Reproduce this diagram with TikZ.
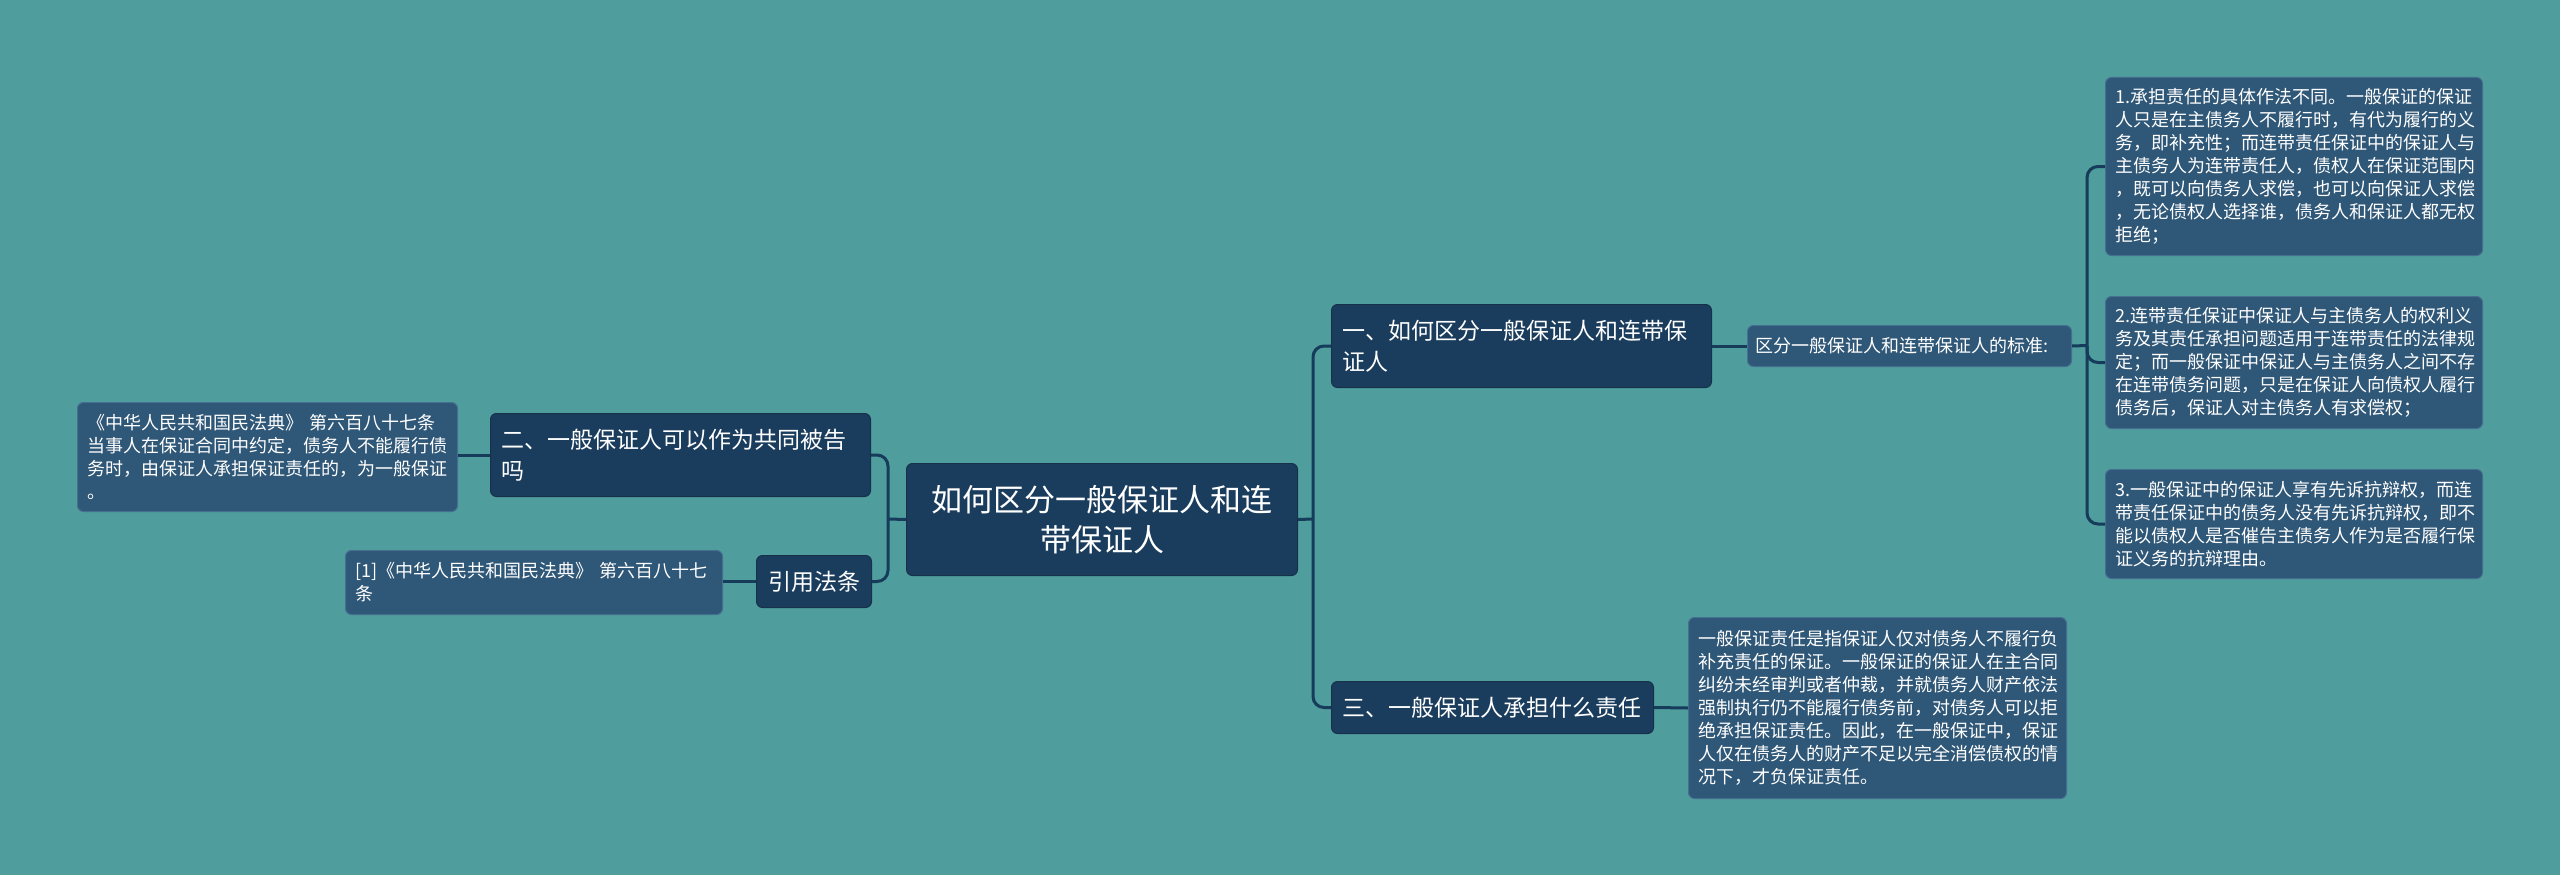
\documentclass[tikz,border=0pt]{standalone}
\usepackage{fontspec}
\setmainfont{Noto Sans CJK SC}
\definecolor{bgc}{HTML}{4F9D9D}
\definecolor{darkc}{HTML}{1B3D5D}
\definecolor{leafc}{HTML}{2F5777}
\definecolor{leafedge}{HTML}{456F90}
\definecolor{linec}{HTML}{163B5B}
\tikzset{
  mmbase/.style={anchor=north west, rounded corners=6pt, text=white, inner ysep=0pt},
  mmroot/.style={mmbase, fill=darkc, draw=darkc!80!black, line width=1pt, align=center, inner xsep=10pt, font=\fontsize{31}{40}\selectfont},
  mmmain/.style={mmbase, fill=darkc, draw=darkc!80!black, line width=1pt, align=left, inner xsep=11pt, font=\fontsize{23}{31}\selectfont},
  mmleaf/.style={mmbase, fill=leafc, draw=leafedge, line width=1pt, align=left, inner xsep=10pt, font=\fontsize{18}{23}\selectfont},
  conn/.style={draw=linec, line width=3pt},
  connr/.style={conn, rounded corners=11pt},
}
\begin{document}
\begin{tikzpicture}[x=1pt,y=-1pt]
\fill[bgc] (0,0) rectangle (2560,875);
\useasboundingbox (0,0) rectangle (2560,875);

% root
\node[mmroot, text width=371pt, minimum height=112pt] (root) at (906,463) {如何区分一般保证人和连\\带保证人};

% right side
\node[mmmain, text width=358pt, minimum height=83pt] (n1) at (1331,304) {一、如何区分一般保证人和连带保\\证人};
\node[mmleaf, text width=308pt, minimum height=41pt, inner xsep=8pt] (std) at (1747,325) {区分一般保证人和连带保证人的标准:};
\node[mmleaf, text width=357pt, minimum height=178pt] (l1) at (2105,77) {1.承担责任的具体作法不同。一般保证的保证\\人只是在主债务人不履行时，有代为履行的义\\务，即补充性；而连带责任保证中的保证人与\\主债务人为连带责任人，债权人在保证范围内\\，既可以向债务人求偿，也可以向保证人求偿\\，无论债权人选择谁，债务人和保证人都无权\\拒绝；};
\node[mmleaf, text width=357pt, minimum height=132pt] (l2) at (2105,296) {2.连带责任保证中保证人与主债务人的权利义\\务及其责任承担问题适用于连带责任的法律规\\定；而一般保证中保证人与主债务人之间不存\\在连带债务问题，只是在保证人向债权人履行\\债务后，保证人对主债务人有求偿权；};
\node[mmleaf, text width=357pt, minimum height=109pt] (l3) at (2105,469) {3.一般保证中的保证人享有先诉抗辩权，而连\\带责任保证中的债务人没有先诉抗辩权，即不\\能以债权人是否催告主债务人作为是否履行保\\证义务的抗辩理由。};
\node[mmmain, text width=300pt, minimum height=52pt] (n3) at (1331,681) {三、一般保证人承担什么责任};
\node[mmleaf, text width=358pt, minimum height=181pt] (l4) at (1688,617) {一般保证责任是指保证人仅对债务人不履行负\\补充责任的保证。一般保证的保证人在主合同\\纠纷未经审判或者仲裁，并就债务人财产依法\\强制执行仍不能履行债务前，对债务人可以拒\\绝承担保证责任。因此，在一般保证中，保证\\人仅在债务人的财产不足以完全消偿债权的情\\况下，才负保证责任。};

% left side
\node[mmmain, text width=358pt, minimum height=83pt] (n2) at (490,413) {二、一般保证人可以作为共同被告\\吗};
\node[mmleaf, text width=360pt, minimum height=109pt] (lb) at (77,402) {《中华人民共和国民法典》 第六百八十七条\\当事人在保证合同中约定，债务人不能履行债\\务时，由保证人承担保证责任的，为一般保证\\。};
\node[mmmain, text width=93pt, minimum height=52pt, align=center] (yy) at (756,555) {引用法条};
\node[mmleaf, text width=357pt, minimum height=64pt] (ref) at (345,550) {[1]《中华人民共和国民法典》 第六百八十七\\条};

% connectors
\coordinate (t1) at (1313,519);
\coordinate (t2) at (888,519);
\coordinate (t3) at (2087,345.5);
\draw[conn] (root.east) -- (t1);
\draw[connr] (t1) |- (n1.west);
\draw[connr] (t1) |- (n3.west);
\draw[conn] (root.west) -- (t2);
\draw[connr] (t2) |- (n2.east);
\draw[connr] (t2) |- (yy.east);
\draw[conn] (n1.east) -- (std.west);
\draw[conn] (std.east) -- (t3);
\draw[connr] (t3) |- (l1.west);
\draw[connr] (t3) |- (l2.west);
\draw[connr] (t3) |- (l3.west);
\draw[conn] (n3.east) -- (l4.west);
\draw[conn] (n2.west) -- (n2.west -| lb.east);
\draw[conn] (yy.west) -- (yy.west -| ref.east);
\end{tikzpicture}
\end{document}
